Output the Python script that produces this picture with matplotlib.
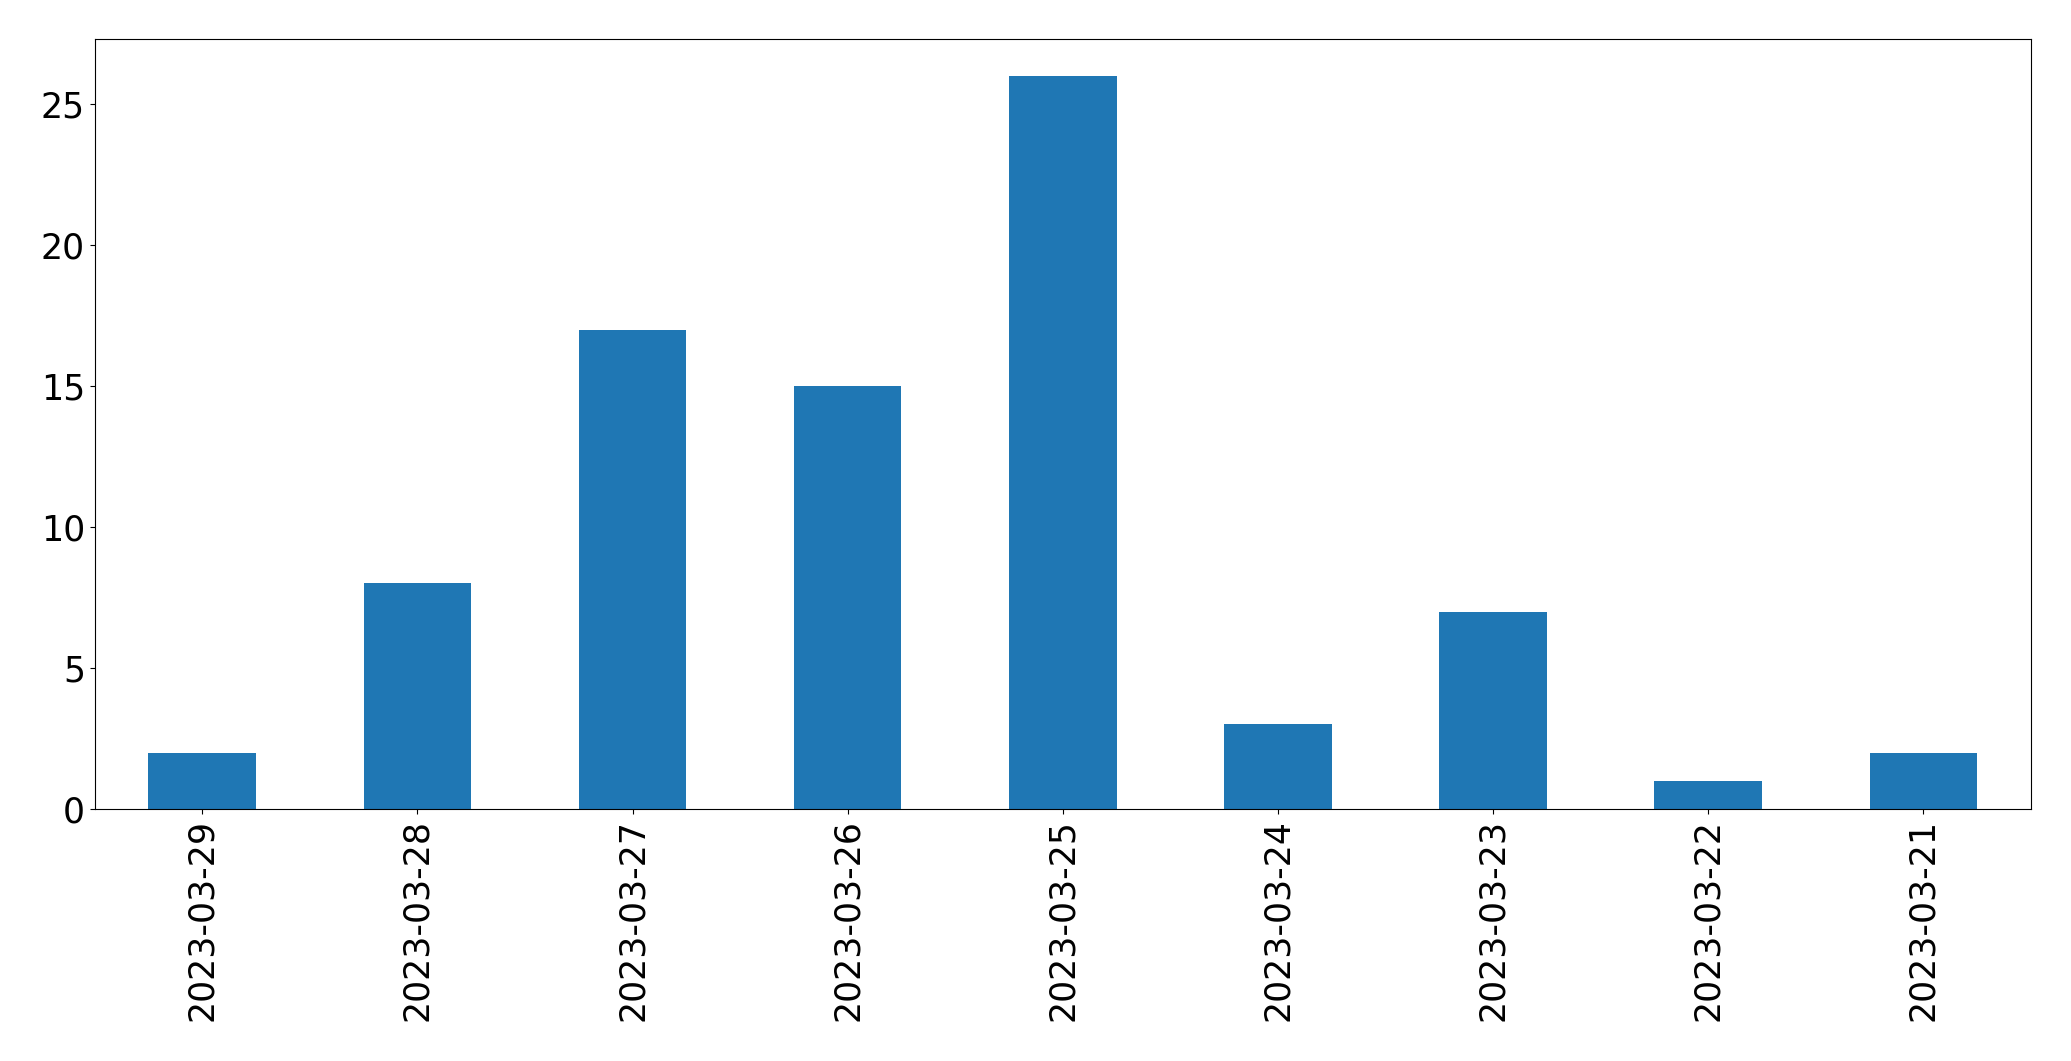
import matplotlib
matplotlib.use("Agg")
import matplotlib.pyplot as plt
import numpy as np

# daily counts, newest first (as in the source table)
dates = ['2023-03-29', '2023-03-28', '2023-03-27', '2023-03-26', '2023-03-25',
         '2023-03-24', '2023-03-23', '2023-03-22', '2023-03-21']
counts = [2, 8, 17, 15, 26, 3, 7, 1, 2]

plt.rcParams['font.size'] = 25

fig = plt.figure(figsize=(20.71, 10.61), dpi=100)
ax = fig.add_axes([94.7 / 2071, 1 - 809 / 1061, (2031 - 94.7) / 2071, (809 - 39.3) / 1061])

x = np.arange(len(dates))
ax.bar(x, counts, width=0.5, color='#1f77b4')
ax.set_xlim(-0.5, len(dates) - 0.5)
ax.set_ylim(0, max(counts) * 1.05)
ax.set_xticks(x)
ax.set_xticklabels(dates, rotation=90)
ax.set_yticks([0, 5, 10, 15, 20, 25])

fig.savefig('out.png', dpi=100)
